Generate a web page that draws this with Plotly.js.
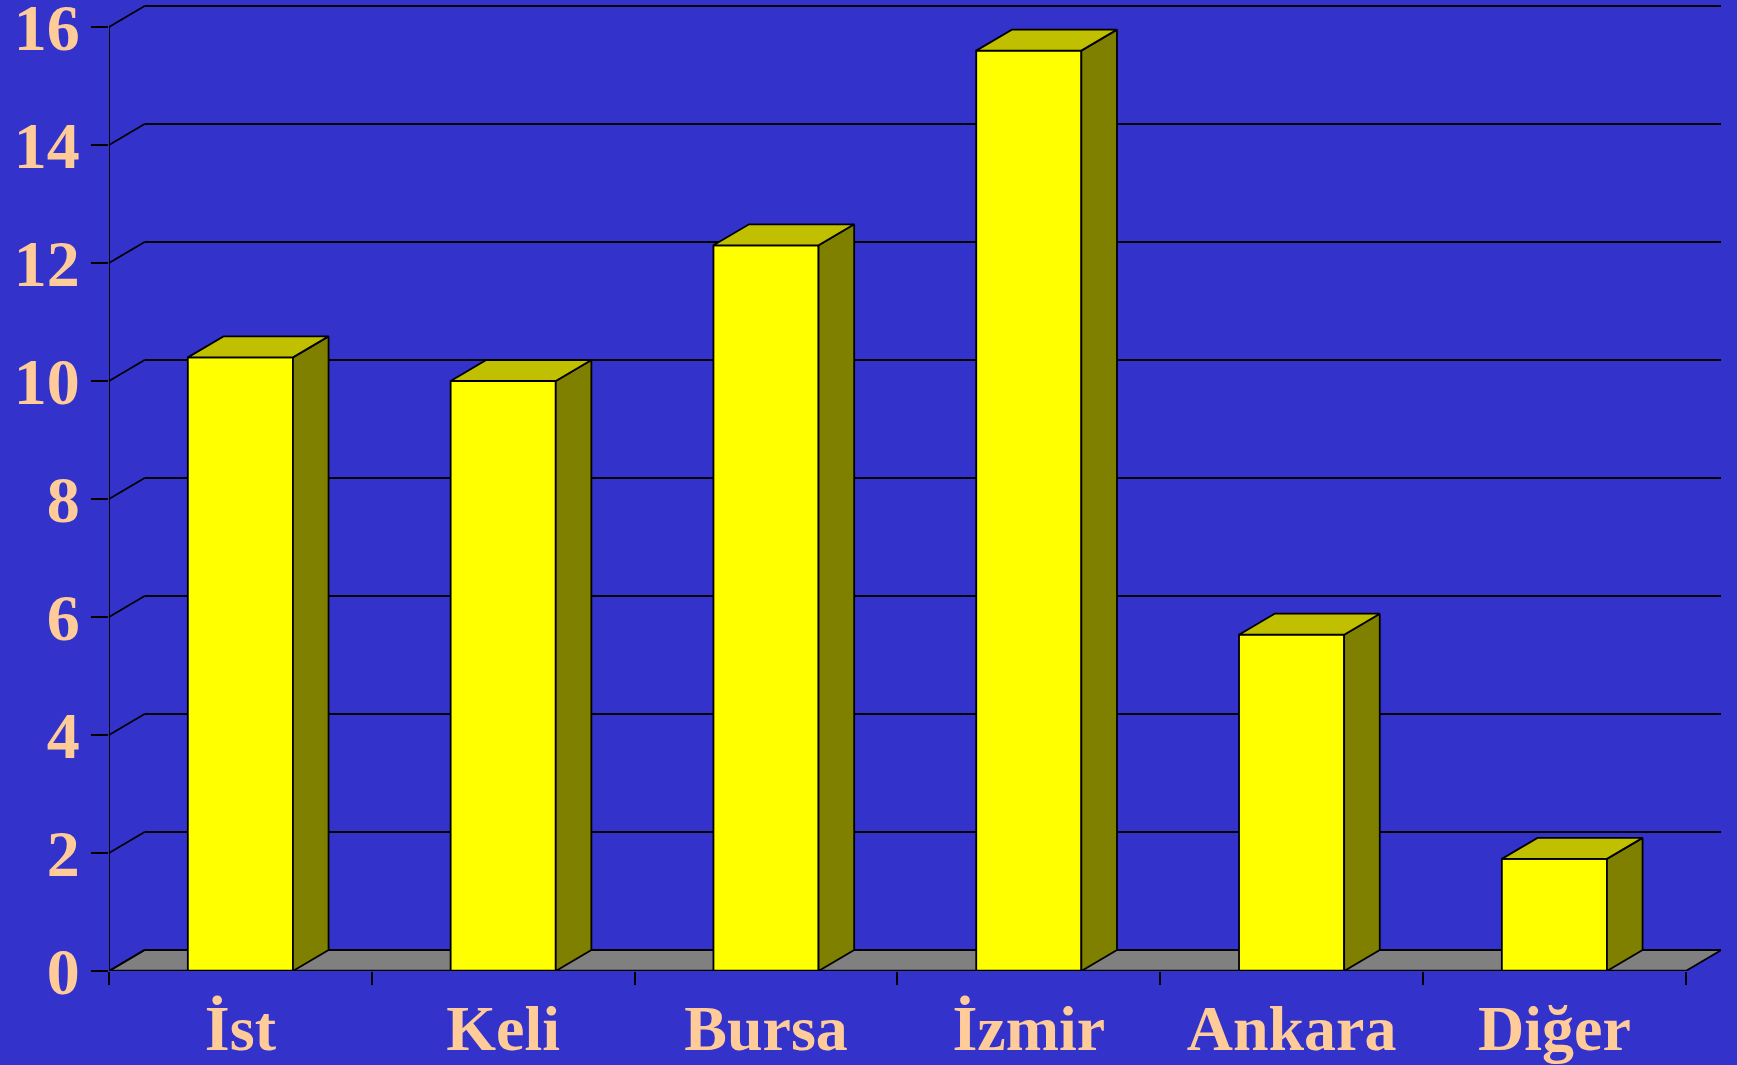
<!DOCTYPE html>
<html>
<head>
<meta charset="utf-8">
<script src="https://cdn.plot.ly/plotly-3.0.1.min.js"></script>
<style>
  html, body { margin: 0; padding: 0; background: #3333CC; }
  #chart { width: 1737px; height: 1065px; }
</style>
</head>
<body>
<div id="chart"></div>
<script>
// ---- data ----
const categories = ['İst', 'Keli', 'Bursa', 'İzmir', 'Ankara', 'Diğer'];
const values = [10.4, 10.0, 12.3, 15.6, 5.7, 1.9];
const yTickValues = [0, 2, 4, 6, 8, 10, 12, 14, 16];

// ---- styling / geometry ----
const BG = '#3333CC';
const LABEL = '#FFCC99';
const FRONT = '#FFFF00';
const SIDE = '#808000';
const TOP = '#C0C000';
const FLOOR = '#808080';
const FONT = 'Liberation Serif, Times New Roman, serif';
const barWidth = 0.4;
const dx = 0.1355;   // depth offset in category units
const dy = 0.356;    // depth offset in value units
const xs = categories.map((c, i) => i);
const xLeft = -0.5, xRight = categories.length - 0.5;
const boundaries = [];
for (let i = 0; i <= categories.length; i++) boundaries.push(i - 0.5);

const traces = [];
// front faces
traces.push({
  type: 'bar', x: xs, y: values, width: barWidth,
  marker: { color: FRONT, line: { color: '#000', width: 1.8 } },
  hoverinfo: 'skip', showlegend: false
});
// side & top faces
values.forEach((v, i) => {
  const l = xs[i] - barWidth / 2, r = xs[i] + barWidth / 2;
  traces.push({
    type: 'scatter', mode: 'lines', fill: 'toself', fillcolor: SIDE,
    x: [r, r + dx, r + dx, r, r], y: [0, dy, v + dy, v, 0],
    line: { color: '#000', width: 1.8 }, hoverinfo: 'skip', showlegend: false
  });
  traces.push({
    type: 'scatter', mode: 'lines', fill: 'toself', fillcolor: TOP,
    x: [l, l + dx, r + dx, r, l], y: [v, v + dy, v + dy, v, v],
    line: { color: '#000', width: 1.8 }, hoverinfo: 'skip', showlegend: false
  });
});

const shapes = [];
// floor
shapes.push({
  type: 'path', layer: 'below', xref: 'x', yref: 'y',
  path: `M ${xLeft},0 L ${xRight},0 L ${xRight + dx},${dy} L ${xLeft + dx},${dy} Z`,
  fillcolor: FLOOR, line: { color: '#000', width: 1.8 }
});
// back-wall gridlines with diagonal connectors
yTickValues.forEach(v => {
  shapes.push({ type: 'line', layer: 'below', xref: 'x', yref: 'y',
    x0: xLeft, y0: v, x1: xLeft + dx, y1: v + dy, line: { color: '#000', width: 1.8 } });
  if (v > 0) shapes.push({ type: 'line', layer: 'below', xref: 'x', yref: 'y',
    x0: xLeft + dx, y0: v + dy, x1: xRight + dx, y1: v + dy, line: { color: '#000', width: 1.8 } });
});
// front value axis line
shapes.push({ type: 'line', layer: 'below', xref: 'x', yref: 'y',
  x0: xLeft, y0: 0, x1: xLeft, y1: yTickValues[yTickValues.length - 1], line: { color: '#000', width: 2 } });
// front category axis line
shapes.push({ type: 'line', layer: 'above', xref: 'x', yref: 'y',
  x0: xLeft, y0: 0, x1: xRight, y1: 0, line: { color: '#000', width: 2.5 } });

const layout = {
  width: 1737, height: 1065,
  margin: { l: 109, r: 16, t: 4, b: 94, pad: 0 },
  paper_bgcolor: BG, plot_bgcolor: BG,
  showlegend: false,
  xaxis: {
    range: [xLeft, xLeft + 1612 / 262.8],
    tickmode: 'array', tickvals: xs, ticktext: categories,
    ticks: '', showgrid: false, zeroline: false, showline: false,
    tickfont: { family: FONT, size: 64, color: LABEL, weight: 'bold' },
    ticklabelstandoff: 14, ticklabeloverflow: 'allow',
    minor: { tickmode: 'array', tickvals: boundaries, ticks: 'outside', ticklen: 13,
             tickwidth: 2, tickcolor: '#000', showgrid: false }
  },
  yaxis: {
    range: [0, 967 / 59.0],
    tickmode: 'array', tickvals: yTickValues,
    ticks: 'outside', ticklen: 17, tickwidth: 2, tickcolor: '#000',
    showgrid: false, zeroline: false, showline: false,
    tickfont: { family: FONT, size: 66, color: LABEL, weight: 'bold' },
    ticklabelstandoff: -2, ticklabeloverflow: 'allow'
  },
  shapes: shapes,
  bargap: 0
};

Plotly.newPlot('chart', traces, layout, { displayModeBar: false, staticPlot: true });
</script>
</body>
</html>
